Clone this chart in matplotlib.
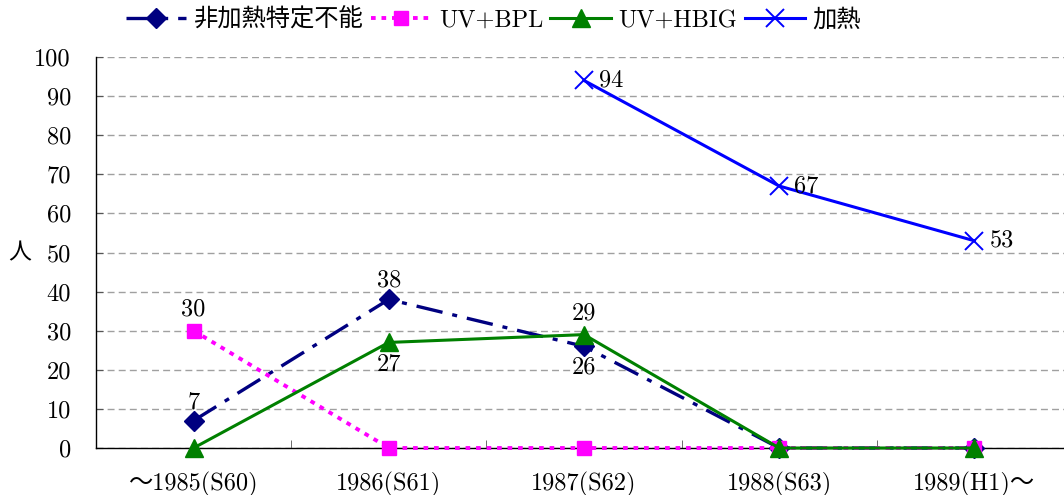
import matplotlib
matplotlib.use("Agg")
import matplotlib.pyplot as plt
import numpy as np

categories = ["～1985(S60)", "1986(S61)", "1987(S62)", "1988(S63)", "1989(H1)～"]
series_names = ["非加熱特定不能", "UV+BPL", "UV+HBIG", "加熱"]
hiheat = [7, 38, 26, 0, 0]
uvbpl = [30, 0, 0, 0, 0]
uvhbig = [0, 27, 29, 0, 0]
heat = [np.nan, np.nan, 94, 67, 53]
yticks = [0, 10, 20, 30, 40, 50, 60, 70, 80, 90, 100]

FAM = ["cmr10", "Noto Sans CJK JP", "DejaVu Sans"]
plt.rcParams["font.family"] = FAM
plt.rcParams["axes.formatter.use_mathtext"] = True
FS = 17.5

fig = plt.figure(figsize=(10.64, 4.95), dpi=100)
ax = fig.add_axes([96/1064, 1-448/495, 976/1064, 391/495])
x = np.arange(len(categories))

l1, = ax.plot(x, hiheat, color="#000080", lw=2.4, ls=(0, (8, 3, 1.5, 3)),
              marker="D", ms=10, label=series_names[0], zorder=3, clip_on=False)
l2, = ax.plot(x, uvbpl, color="#FF00FF", lw=2.8, ls=(0, (1.2, 1.5)),
              marker="s", ms=10, label=series_names[1], zorder=3, clip_on=False)
l3, = ax.plot(x, uvhbig, color="#008000", lw=2.2, ls="-",
              marker="^", ms=13, label=series_names[2], zorder=4, clip_on=False)
l4, = ax.plot(x, heat, color="#0000FF", lw=2.2, ls="-",
              marker="x", ms=13, mew=1.4, label=series_names[3], zorder=3, clip_on=False)

def lab(xi, yi, dx, dy, ha="center", va="center"):
    ax.annotate(f"{yi:g}", (xi, yi), xytext=(dx, dy), textcoords="offset points",
                ha=ha, va=va, fontsize=FS, family=FAM)

# navy labels
lab(0, hiheat[0], 0, 13)
lab(1, hiheat[1], 0, 14)
lab(2, hiheat[2], 0, -15)
# magenta
lab(0, uvbpl[0], 0, 15)
# green
lab(1, uvhbig[1], 0, -16)
lab(2, uvhbig[2], 0, 15)
# blue
for i in [2, 3, 4]:
    lab(i, heat[i], 11, 0, ha="left")

ax.set_xlim(-0.5, 4.5)
ax.set_ylim(0, 100)
ax.set_yticks(yticks)
ax.set_yticklabels([str(v) for v in yticks], fontsize=FS)
ax.set_xticks(x)
ax.set_xticklabels(categories, fontsize=FS)
ax.set_xticks(np.arange(0.5, 4.5, 1), minor=True)
ax.tick_params(axis="x", which="major", length=0, pad=17)
ax.tick_params(axis="x", which="minor", length=6, direction="in", color="#555555")
ax.tick_params(axis="y", length=5, direction="in", pad=18, color="#555555")
ax.yaxis.grid(True, ls=(0, (5, 3)), color="#A0A0A0", lw=1.0)
ax.set_axisbelow(True)
for s in ["top", "right"]:
    ax.spines[s].set_visible(False)
for s in ["left", "bottom"]:
    ax.spines[s].set_color("black")
    ax.spines[s].set_linewidth(1.0)

fig.text(20/1064, 1-253/495, "人", fontsize=FS-1, ha="center", va="center",
         family=["Noto Sans CJK JP"])

fig.legend(handles=[l1, l2, l3, l4], loc="center left",
           bbox_to_anchor=(116/1064, 1-20/495), ncol=4, frameon=False,
           handlelength=2.5, handletextpad=0.3, columnspacing=0.3,
           borderaxespad=0, prop={"family": FAM, "size": FS})

fig.savefig("out.png", dpi=100)
